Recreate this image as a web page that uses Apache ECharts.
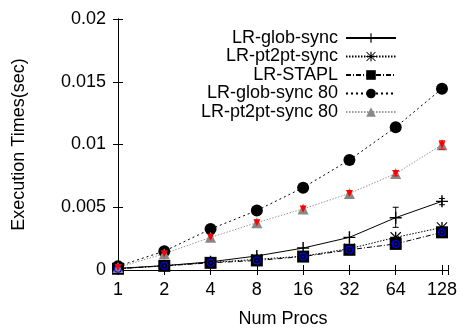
<!DOCTYPE html>
<html>
<head>
<meta charset="utf-8">
<script src="https://cdn.jsdelivr.net/npm/echarts@6/dist/echarts.min.js"></script>
<style>html,body{margin:0;padding:0;background:#fff}#c{width:461px;height:333px}</style>
</head>
<body>
<div id="c"></div>
<script>
var procLabels = ['1','2','4','8','16','32','64','128'];
var globSync   = [0.00013,0.00034,0.00065,0.00112,0.00175,0.0026,0.00417,0.00547];
var pt2ptSync  = [0.0001,0.00035,0.0006,0.00085,0.0011,0.0017,0.0026,0.00339];
var stapl      = [0.0001,0.00033,0.00057,0.00076,0.00107,0.00161,0.00208,0.003];
var globSync80 = [0.0003,0.0015,0.00326,0.00474,0.00656,0.00877,0.01138,0.01445];
var pt2ptSync80= [0.0002,0.0013,0.0026,0.00377,0.00487,0.0061,0.00768,0.00998];
var stapl80    = [0.0001,0.00033,0.00057,0.00076,0.00107,0.00161,0.00208,0.003];
var pt2ptSync80b=[0.0002,0.0013,0.0026,0.00377,0.00487,0.0061,0.00768,0.00998];
// error bars: [index, low, high]
var globErr  = [[6,0.0034,0.005],[7,0.0052,0.0057]];
var redErr   = [[6,0.0075,0.0079],[7,0.0096,0.0103]];
var yTicks = [0,0.005,0.01,0.015,0.02];

function pts(arr){ return arr.map(function(v,i){return [i,v];}); }
var FONT = 'Liberation Sans';
var plus = 'path://M4.4,0H5.6V4.4H10V5.6H5.6V10H4.4V5.6H0V4.4H4.4Z';
var star = 'path://M4.4,0H5.6V4.4H10V5.6H5.6V10H4.4V5.6H0V4.4H4.4Z M0,0.7L0.7,0L10,9.3L9.3,10Z M9.3,0L10,0.7L0.7,10L0,9.3Z';
var ringDot = 'path://M0,5A5,5 0 1,1 10,5A5,5 0 1,1 0,5Z M1.4,5A3.6,3.6 0 1,0 8.6,5A3.6,3.6 0 1,0 1.4,5Z M3.6,5A1.4,1.4 0 1,1 6.4,5A1.4,1.4 0 1,1 3.6,5Z';

function errSeries(data, color){
  return {
    type:'custom', silent:true, z:5,
    data:data,
    renderItem:function(params, api){
      var lo = api.coord([api.value(0), api.value(1)]);
      var hi = api.coord([api.value(0), api.value(2)]);
      var w = 3;
      var st = {stroke:color, lineWidth:1};
      return {type:'group', children:[
        {type:'line', shape:{x1:lo[0],y1:lo[1],x2:hi[0],y2:hi[1]}, style:st},
        {type:'line', shape:{x1:lo[0]-w,y1:lo[1],x2:lo[0]+w,y2:lo[1]}, style:st},
        {type:'line', shape:{x1:hi[0]-w,y1:hi[1],x2:hi[0]+w,y2:hi[1]}, style:st}
      ]};
    }
  };
}

var chart = echarts.init(document.getElementById('c'), null, {renderer:'canvas'});
var axisLine = {show:true, lineStyle:{color:'#000', width:1}};
var option = {
  animation:false,
  backgroundColor:'#fff',
  textStyle:{fontFamily:FONT},
  grid:{left:118, right:13, top:19, bottom:58},
  legend:{
    orient:'vertical', right:59, top:24, align:'right',
    itemWidth:50, itemHeight:12, itemGap:0.5,
    textStyle:{fontFamily:FONT, fontSize:18, color:'#000', lineHeight:18, padding:[0,3,0,0]},
    data:['LR-glob-sync','LR-pt2pt-sync','LR-STAPL','LR-glob-sync 80','LR-pt2pt-sync 80']
  },
  xAxis:[{
    type:'value', min:0, max:7.13, interval:1, position:'bottom',
    axisLine:axisLine, splitLine:{show:false},
    axisTick:{show:true, inside:true, length:5, lineStyle:{color:'#000'}},
    axisLabel:{color:'#000', fontSize:18, fontFamily:FONT, margin:11, showMaxLabel:true,
      formatter:function(v){ return Math.abs(v-Math.round(v))<1e-6 ? procLabels[Math.round(v)] : ''; }},
    name:'Num Procs', nameLocation:'middle', nameGap:40,
    nameTextStyle:{color:'#000', fontSize:18, fontFamily:FONT}
  },{
    type:'value', min:0, max:7.13, interval:1, position:'top',
    axisLine:axisLine, splitLine:{show:false},
    axisTick:{show:true, inside:true, length:5, lineStyle:{color:'#000'}},
    axisLabel:{show:false}
  }],
  yAxis:[{
    type:'value', min:yTicks[0], max:yTicks[yTicks.length-1], interval:yTicks[1]-yTicks[0], position:'left',
    axisLine:axisLine, splitLine:{show:false},
    axisTick:{show:true, inside:true, length:5, lineStyle:{color:'#000'}},
    axisLabel:{color:'#000', fontSize:18, fontFamily:FONT, margin:12},
    name:'Execution Times(sec)', nameLocation:'middle', nameGap:90,
    nameTextStyle:{color:'#000', fontSize:18, fontFamily:FONT}
  },{
    type:'value', min:yTicks[0], max:yTicks[yTicks.length-1], interval:yTicks[1]-yTicks[0], position:'right',
    axisLine:axisLine, splitLine:{show:false},
    axisTick:{show:true, inside:true, length:5, lineStyle:{color:'#000'}},
    axisLabel:{show:false}
  }],
  series:[
    errSeries(globErr,'#000'),
    errSeries(redErr,'#ff0000'),
    {name:'LR-glob-sync', type:'line', data:pts(globSync), symbol:plus, symbolSize:12,
      lineStyle:{color:'#000', width:1, type:'solid'}, itemStyle:{color:'#000'}, z:3},
    {name:'LR-pt2pt-sync', type:'line', data:pts(pt2ptSync), symbol:star, symbolSize:11,
      lineStyle:{color:'#000', width:1, type:[1.5,1.5]}, itemStyle:{color:'#000'}, z:3},
    {name:'LR-STAPL', type:'line', data:pts(stapl), symbol:'rect', symbolSize:12,
      lineStyle:{color:'#000', width:1, type:[5,2,1,2]}, itemStyle:{color:'#000'}, z:3},
    {name:'LR-glob-sync 80', type:'line', data:pts(globSync80), symbol:'circle', symbolSize:12,
      lineStyle:{color:'#000', width:1, type:[2,3]}, itemStyle:{color:'#000'}, z:3},
    {name:'LR-pt2pt-sync 80', type:'line', data:pts(pt2ptSync80), symbol:'triangle', symbolSize:11,
      lineStyle:{color:'#999', width:1, type:[1.5,1.5]}, itemStyle:{color:'#888'}, z:3},
    {name:'stapl80', type:'line', data:pts(stapl80), symbol:ringDot, symbolSize:8,
      lineStyle:{width:0, opacity:0}, itemStyle:{color:'#0000ff'}, z:4},
    {name:'pt2pt80b', type:'line', data:pts(pt2ptSync80b), symbol:'triangle', symbolRotate:180, symbolSize:7,
      lineStyle:{width:0, opacity:0}, itemStyle:{color:'#ff0000'}, z:4}
  ]
};
chart.setOption(option);
</script>
</body>
</html>
